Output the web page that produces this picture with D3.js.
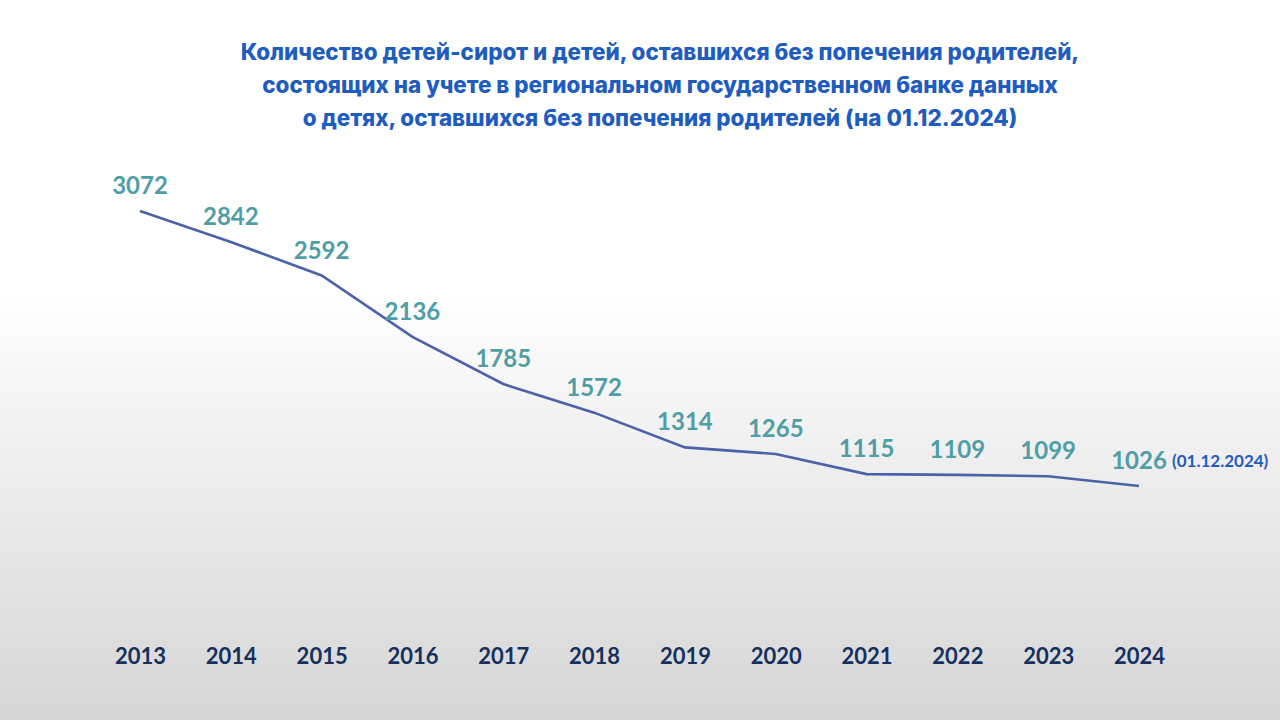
<!DOCTYPE html>
<html>
<head>
<meta charset="utf-8">
<script src="https://cdn.jsdelivr.net/npm/d3@7"></script>
<style>
  html, body { margin: 0; padding: 0; }
  body { width: 1280px; height: 720px; overflow: hidden; }
</style>
</head>
<body>
<svg id="chart"></svg>
<script>
// Chart data
const years = ['2013', '2014', '2015', '2016', '2017', '2018', '2019', '2020', '2021', '2022', '2023', '2024'];
const counts = [3072, 2842, 2592, 2136, 1785, 1572, 1314, 1265, 1115, 1109, 1099, 1026];
const titleLines = [
  'Количество детей-сирот и детей, оставшихся без попечения родителей,',
  'состоящих на учете в региональном государственном банке данных',
  'о детях, оставшихся без попечения родителей (на 01.12.2024)'
];
const lastNote = '(01.12.2024)';

const width = 1280, height = 720;

const svg = d3.select('#chart')
    .attr('width', width)
    .attr('height', height);

// Background gradient: white at top, light grey at bottom
const defs = svg.append('defs');
const grad = defs.append('linearGradient')
    .attr('id', 'bg')
    .attr('x1', 0).attr('y1', 0).attr('x2', 0).attr('y2', 1);
grad.append('stop').attr('offset', '0%').attr('stop-color', '#ffffff');
grad.append('stop').attr('offset', '40%').attr('stop-color', '#ffffff');
grad.append('stop').attr('offset', '100%').attr('stop-color', '#d6d6d6');

svg.append('rect')
    .attr('width', width)
    .attr('height', height)
    .attr('fill', 'url(#bg)');

// Title
svg.append('text')
    .attr('text-anchor', 'middle')
    .style('font-family', 'Inter, "Open Sans", sans-serif')
    .style('font-weight', 800)
    .style('font-size', '22.4px')
    .attr('fill', '#1f5cbf')
  .selectAll('tspan')
    .data(titleLines)
  .join('tspan')
    .attr('x', 660)
    .attr('y', (d, i) => 60 + i * 33)
    .text(d => d);

// Scales
const xScale = d3.scalePoint()
    .domain(years)
    .range([140, 1139]);

const yScale = d3.scaleLinear()
    .domain([0, 3072])
    .range([624, 211]);

const data = years.map((y, i) => ({ year: y, value: counts[i] }));

// X axis: only year labels
const xAxis = d3.axisBottom(xScale).tickSize(0).tickPadding(0);
const xAxisG = svg.append('g')
    .attr('transform', 'translate(0,648)')
    .call(xAxis);
xAxisG.select('.domain').remove();
xAxisG.selectAll('text')
    .attr('dy', '0.71em')
    .style('font-family', 'Lato, "Open Sans", sans-serif')
    .style('font-weight', 'bold')
    .style('font-size', '22px')
    .attr('fill', '#15305e');

// Line
const line = d3.line()
    .x(d => xScale(d.year))
    .y(d => yScale(d.value));

svg.append('path')
    .datum(data)
    .attr('fill', 'none')
    .attr('stroke', '#4a62a8')
    .attr('stroke-width', 2.6)
    .attr('d', line);

// Value labels
svg.selectAll('.val')
    .data(data)
  .join('text')
    .attr('class', 'val')
    .attr('x', d => xScale(d.year))
    .attr('y', d => yScale(d.value) - 17)
    .attr('text-anchor', 'middle')
    .style('font-family', 'Lato, "Open Sans", sans-serif')
    .style('font-weight', 'bold')
    .style('font-size', '24px')
    .attr('fill', '#4f9ea6')
    .text(d => d.value);

// Note after the last value
const last = data[data.length - 1];
svg.append('text')
    .attr('x', xScale(last.year) + 33)
    .attr('y', yScale(last.value) - 19)
    .style('font-family', 'Lato, "Open Sans", sans-serif')
    .style('font-weight', 'bold')
    .style('font-size', '17px')
    .attr('fill', '#1f5cbf')
    .text(lastNote);
</script>
</body>
</html>
